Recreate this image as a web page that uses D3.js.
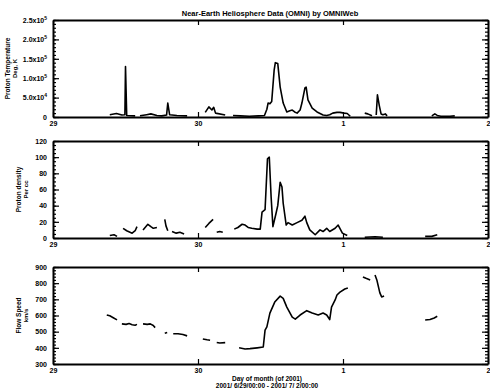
<!DOCTYPE html>
<html><head><meta charset="utf-8">
<script src="https://cdn.jsdelivr.net/npm/d3@7"></script>
<style>
body{margin:0;background:#fff}
svg{display:block}
text{font-family:"Liberation Sans",Arial,sans-serif;font-weight:bold;fill:#000}
</style>
</head><body><svg id="c" width="490" height="391"></svg>
<script>
// ---- data (time = hours since 6/29 00:00) ----
const xTickHours = [0, 24, 48, 72];
const xTickLabels = ["29", "30", "1", "2"];

const tempTicks = [0, 5e4, 1e5, 1.5e5, 2e5, 2.5e5];
const tempTickMant = ["0", "5.0x10", "1.0x10", "1.5x10", "2.0x10", "2.5x10"];
const tempTickExp  = ["", "4", "5", "5", "5", "5"];
const densTicks = [0, 20, 40, 60, 80, 100, 120];
const speedTicks = [300, 400, 500, 600, 700, 800, 900];

const tempData = [
  [9.4,6e3],[10.5,9e3],[11.4,5e3],[11.9,6e3],[12.0,1.3e5],[12.2,4e3],[13.6,3e3],null,
  [14.4,3e3],[15.5,6e3],[16.2,8e3],[17.2,4e3],[18.0,3e3],[18.8,5e3],[19.0,3.6e4],[19.3,6e3],[20.5,4e3],[22.2,3e3],null,
  [25.2,1.2e4],[25.8,2.6e4],[26.3,1.8e4],[26.6,2.5e4],[26.9,1e4],[28.5,5e3],null,
  [29.8,4e3],[31,3e3],[32.5,2e3],[34,3e3],[35,4e3],[35.4,2e4],[35.6,3.6e4],[35.9,3.4e4],[36.2,4e4],[36.6,1.2e5],[36.8,1.4e5],[37.2,1.38e5],[37.6,7.7e4],[38.1,3.6e4],[38.7,1.3e4],[39.2,1.6e4],[39.6,1.8e4],[40.0,1.3e4],[40.4,1.0e4],[40.9,1.8e4],[41.2,3.6e4],[41.7,7.5e4],[41.9,7.7e4],[42.2,4.4e4],[42.9,2.3e4],[43.7,1.3e4],[44.7,5e3],[45.3,4e3],[45.8,6e3],[46.3,1e4],[47.0,1.2e4],[47.5,1.2e4],[48.2,1e4],[48.7,9e3],[49.2,2e3],null,
  [51.6,1e4],[52.1,8e3],[52.8,3e3],null,
  [53.5,5e3],[53.7,5.7e4],[54.0,3e4],[54.3,8e3],[54.6,6e3],[55.0,8e3],[55.3,3e3],null,
  [62.7,3e3],[63.2,8e3],[63.6,4e3],[64.2,2e3],[65.7,2e3],[66.5,3e3]
];

const densData = [
  [9.4,3],[10.1,4],[10.6,2],null,
  [11.6,12],[12.2,9],[13.1,6],[13.6,9],[13.9,14],null,
  [14.9,10],[15.7,17],[16.2,14],[16.6,12],[17.2,13],null,
  [18.5,23],[18.7,15],[19.0,9],null,
  [19.7,8],[20.4,6],[21.0,7],[21.7,5],null,
  [25.2,13],[25.8,18],[26.5,23],null,
  [27.1,7],[27.6,8],[28.1,7],null,
  [30.0,11],[30.6,13],[31.3,17],[31.8,16],[32.3,13],[32.9,12],[33.8,11],[34.3,11],[34.6,32],[35.1,35],[35.5,98],[35.8,100],[36.1,51],[36.4,14],[36.9,30],[37.2,40],[37.6,69],[37.9,63],[38.1,43],[38.6,16],[38.9,19],[39.6,16],[40.4,19],[41.2,22],[41.7,27],[42.0,19],[42.5,10],[43.4,4],[44.2,10],[44.7,8],[45.3,12],[45.8,8],[46.7,12],[47.2,16],[47.9,6],[48.7,3],null,
  [51.6,1],[53.3,1.5],[54.6,1],null,
  [61.6,2],[62.7,2],[63.6,4]
];

const speedData = [
  [8.9,603],[9.4,598],[9.9,588],[10.6,573],null,
  [11.4,548],[12.1,545],[12.6,550],[13.1,543],[13.6,540],[13.9,545],null,
  [14.9,548],[15.6,545],[16.1,548],[16.6,538],[16.9,525],null,
  [18.5,490],[18.9,495],null,
  [19.9,487],[20.7,487],[21.5,482],[22.2,474],null,
  [24.8,455],[25.5,450],[26.0,447],null,
  [27.1,433],[27.6,430],[28.5,432],null,
  [30.8,400],[31.8,393],[32.6,395],[33.8,400],[34.8,405],[35.1,510],[35.4,530],[35.9,615],[36.7,683],[37.6,720],[38.1,706],[38.7,652],[39.6,590],[40.1,578],[40.9,603],[42.0,630],[42.9,615],[43.9,603],[44.7,615],[45.3,603],[45.8,575],[46.1,652],[46.7,696],[47.0,727],[47.5,745],[48.3,764],[48.8,770],null,
  [51.3,838],[51.8,830],[52.5,820],null,
  [53.3,850],[53.6,820],[54.1,740],[54.4,715],[54.8,720],null,
  [61.6,572],[62.4,575],[63.1,585],[63.6,595]
];

const titleText = "Near-Earth Heliosphere Data (OMNI) by OMNIWeb";
const xTitle1 = "Day of month (of 2001)";
const xTitle2 = "2001/ 6/29/00:00 - 2001/ 7/ 2/00:00";

// ---- drawing ----
const svg = d3.select("#c");
const L = 53, R = 488;
const x = d3.scaleLinear().domain([0, 72]).range([L, R]);

const panels = [
  {top:20, bottom:117, domain:[0,2.5e5], ticks:tempTicks, minor:d3.range(0,2.5e5+1,1e4), data:tempData,
   title:["Proton Temperature","Deg, K"], tx:[10,17], labels:"temp"},
  {top:141, bottom:238, domain:[0,120], ticks:densTicks, minor:d3.range(0,121,5), data:densData,
   title:["Proton density","Per cc"], tx:[21,28]},
  {top:267, bottom:364, domain:[300,900], ticks:speedTicks, minor:d3.range(300,901,20), data:speedData,
   title:["Flow Speed","km/s"], tx:[21,28]}
];

panels.forEach(p => {
  const y = d3.scaleLinear().domain(p.domain).range([p.bottom, p.top]);
  const g = svg.append("g");

  g.append("g").attr("transform",`translate(${L},0)`)
    .call(d3.axisLeft(y).tickValues(p.minor).tickSize(-3).tickSizeOuter(0).tickFormat(""))
    .call(s=>s.select(".domain").remove());
  g.append("g").attr("transform",`translate(${R},0)`)
    .call(d3.axisRight(y).tickValues(p.minor).tickSize(-3).tickSizeOuter(0).tickFormat(""))
    .call(s=>s.select(".domain").remove());

  const la = g.append("g").attr("transform",`translate(${L},0)`)
    .call(d3.axisLeft(y).tickValues(p.ticks).tickSize(-6).tickSizeOuter(0).tickPadding(6));
  la.selectAll("text").attr("font-size",7).attr("font-family","Liberation Sans").attr("font-weight","bold");
  if (p.labels === "temp") {
    la.selectAll(".tick text").each(function(d,i){
      const t = d3.select(this).text("");
      t.append("tspan").text(tempTickMant[i]);
      if (tempTickExp[i]) t.append("tspan").attr("dy",-3).attr("font-size",5).text(tempTickExp[i]);
    });
  }
  g.append("g").attr("transform",`translate(${R},0)`)
    .call(d3.axisRight(y).tickValues(p.ticks).tickSize(-6).tickSizeOuter(0).tickFormat(""));

  const ba = g.append("g").attr("transform",`translate(0,${p.bottom})`)
    .call(d3.axisBottom(x).tickValues(xTickHours).tickSize(-5).tickSizeOuter(0).tickPadding(4)
      .tickFormat((d,i)=>xTickLabels[i]));
  ba.selectAll("text").attr("font-size",7).attr("font-family","Liberation Sans").attr("font-weight","bold");
  g.append("g").attr("transform",`translate(0,${p.top})`)
    .call(d3.axisTop(x).tickValues(xTickHours).tickSize(-5).tickSizeOuter(0).tickFormat(""));

  g.selectAll(".domain").attr("stroke","#000").attr("stroke-width",2);
  g.selectAll(".tick line").attr("stroke","#000").attr("stroke-width",1.2);

  const line = d3.line().defined(d=>d!==null).x(d=>x(d[0])).y(d=>y(d[1]));
  g.append("path").datum(p.data).attr("d",line)
    .attr("fill","none").attr("stroke","#000").attr("stroke-width",1.6).attr("stroke-linejoin","round");

  const cy = (p.top + p.bottom)/2;
  p.title.forEach((t,i)=>{
    g.append("text").attr("transform",`translate(${p.tx[i]},${cy}) rotate(-90)`)
      .attr("text-anchor","middle").attr("font-size",i===0?6.5:6).text(t);
  });
});

svg.append("text").attr("x",270).attr("y",16).attr("text-anchor","middle")
  .attr("font-size",7.5).text(titleText);
svg.append("text").attr("x",267).attr("y",381).attr("text-anchor","middle")
  .attr("font-size",6.5).text(xTitle1);
svg.append("text").attr("x",267).attr("y",388).attr("text-anchor","middle")
  .attr("font-size",6.5).text(xTitle2);
</script>
</body></html>
